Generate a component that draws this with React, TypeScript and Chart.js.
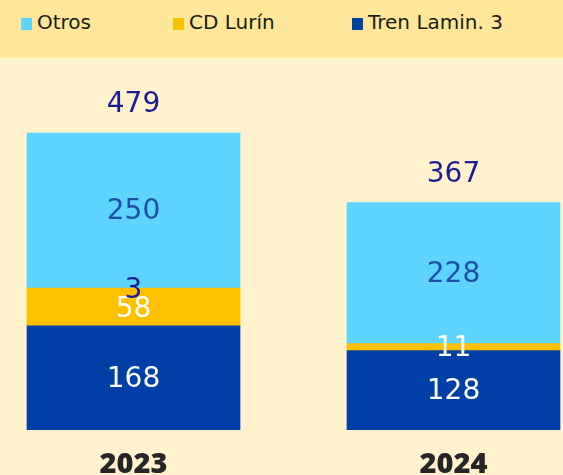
import React, { useEffect, useRef } from "react";
import { Chart, registerables } from "chart.js";

Chart.register(...registerables);

// ---- data ----
const years = ["2023", "2024"];
const trenLamin = [168, 128];
const cdLurin = [58, 11];
const otrosExtra = [3, 0];
const otros = [250, 228];
const totals = [479, 367];

const seriesNames = ["Tren Lamin. 3", "CD Lurín", "", "Otros"];
const seriesColors = ["#0040A6", "#FFC000", "#FFC000", "#5CD4FF"];
const labelColors = ["#FFFFFF", "#FFFFFF", "#1C1C96", "#1F4EA6"];
const legendOrder = [3, 1, 0];

const FONT = "'DejaVu Sans', sans-serif";

const labelPlugin = {
  id: "valueLabels",
  afterDatasetsDraw(chart: any) {
    const ctx = chart.ctx;
    ctx.save();
    ctx.textAlign = "center";
    ctx.textBaseline = "middle";
    ctx.font = `28px ${FONT}`;
    chart.data.datasets.forEach((ds: any, di: number) => {
      const meta = chart.getDatasetMeta(di);
      meta.data.forEach((bar: any, i: number) => {
        const v = ds.data[i].y;
        if (!v) return;
        ctx.fillStyle = labelColors[di];
        const cy = (bar.y + bar.base) / 2 + 1.5;
        ctx.fillText(String(v), bar.x, cy);
      });
    });
    // totals
    const topMeta = chart.getDatasetMeta(chart.data.datasets.length - 1);
    topMeta.data.forEach((bar: any, i: number) => {
      ctx.fillStyle = "#1C1C96";
      ctx.fillText(String(totals[i]), bar.x, bar.y - 28);
    });
    ctx.restore();
  },
};

function App() {
  const ref = useRef<HTMLCanvasElement>(null);
  useEffect(() => {
    document.body.style.margin = "0";
    const values = [trenLamin, cdLurin, otrosExtra, otros];
    const xs = years.map((y) => Number(y));
    const chart = new Chart(ref.current!, {
      type: "bar",
      data: {
        datasets: values.map((arr, di) => ({
          label: seriesNames[di],
          data: arr.map((v, i) => ({ x: xs[i], y: v })),
          backgroundColor: seriesColors[di],
          borderWidth: 0,
          barThickness: 213,
        })),
      },
      options: {
        animation: false,
        responsive: false,
        maintainAspectRatio: false,
        layout: { padding: 0 },
        plugins: { legend: { display: false }, tooltip: { enabled: false } },
        scales: {
          x: {
            type: "linear",
            stacked: true,
            offset: false,
            min: 2022.5828,
            max: 2024.3422,
            grid: { display: false, drawTicks: false, offset: false },
            border: { display: false },
            afterBuildTicks: (s: any) => {
              s.ticks = xs.map((v) => ({ value: v }));
            },
            afterFit: (s: any) => {
              s.height = 45;
            },
            ticks: {
              padding: 17,
              color: "#262626",
              font: { family: "'Open Sans', sans-serif", size: 29, weight: "800" },
              callback: (v: any) => String(v),
            },
          },
          y: {
            stacked: true,
            display: false,
            min: 0,
            max: 600,
          },
        },
      },
      plugins: [labelPlugin],
    });
    return () => chart.destroy();
  }, []);

  const legendWidths = [152, 179, 200];
  return (
    <div style={{ width: 563, height: 475, position: "relative", overflow: "hidden" }}>
      <div
        style={{
          height: 58,
          background: "#FFE699",
          display: "flex",
          alignItems: "center",
          paddingLeft: 21,
          boxSizing: "border-box",
          fontFamily: FONT,
          fontSize: 20,
          color: "#1A1A1A",
          paddingBottom: 14,
        }}
      >
        {legendOrder.map((di, k) => (
          <div key={di} style={{ width: legendWidths[k], display: "flex", alignItems: "center" }}>
            <span
              style={{
                display: "inline-block",
                width: 11,
                height: 12,
                background: seriesColors[di],
                marginRight: 5,
                marginTop: 4,
              }}
            />
            <span>{seriesNames[di]}</span>
          </div>
        ))}
      </div>
      <canvas
        ref={ref}
        width={563}
        height={417}
        style={{ display: "block", background: "#FFF2CC" }}
      />
    </div>
  );
}

export default App;
